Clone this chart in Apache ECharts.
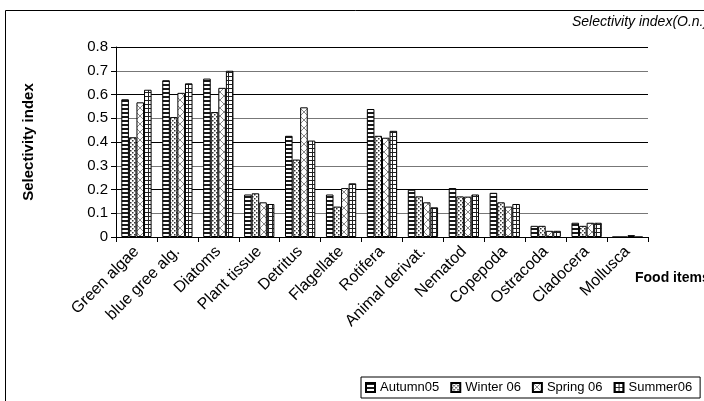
<!DOCTYPE html>
<html>
<head>
<meta charset="utf-8">
<script src="https://cdn.jsdelivr.net/npm/echarts@6/dist/echarts.min.js"></script>
<style>
  html, body { margin: 0; padding: 0; background: #fff; }
  #chart { width: 704px; height: 401px; }
</style>
</head>
<body>
<div id="chart"></div>
<script>
var categories = ['Green algae', 'blue gree alg.', 'Diatoms', 'Plant tissue', 'Detritus', 'Flagellate',
    'Rotifera', 'Animal derivat.', 'Nematod', 'Copepoda', 'Ostracoda', 'Cladocera', 'Mollusca'];
var autumn05 = [0.58, 0.66, 0.667, 0.179, 0.426, 0.179, 0.539, 0.199, 0.206, 0.186, 0.047, 0.06, 0];
var winter06 = [0.42, 0.505, 0.526, 0.184, 0.326, 0.128, 0.426, 0.171, 0.171, 0.146, 0.047, 0.047, 0];
var spring06 = [0.567, 0.607, 0.628, 0.146, 0.546, 0.206, 0.418, 0.146, 0.17, 0.128, 0.026, 0.06, 0.008];
var summer06 = [0.62, 0.647, 0.70, 0.139, 0.406, 0.226, 0.447, 0.125, 0.179, 0.139, 0.026, 0.06, 0];
var seriesNames = ['Autumn05', 'Winter 06', 'Spring 06', 'Summer06'];

// little canvas tiles used as fill patterns
function makeTile(w, h, draw) {
    var c = document.createElement('canvas');
    c.width = w;
    c.height = h;
    var ctx = c.getContext('2d');
    ctx.fillStyle = '#fff';
    ctx.fillRect(0, 0, w, h);
    draw(ctx);
    return { image: c, repeat: 'repeat' };
}

var stripes = makeTile(4, 4, function (ctx) {
    ctx.fillStyle = '#1a1a1a';
    ctx.fillRect(0, 0, 4, 2);
});
var dots = makeTile(4, 4, function (ctx) {
    ctx.fillStyle = '#333';
    ctx.fillRect(0, 0, 1.5, 1.5);
    ctx.fillRect(2, 2, 1.5, 1.5);
});
var diamonds = makeTile(8, 8, function (ctx) {
    ctx.strokeStyle = '#888';
    ctx.lineWidth = 1;
    ctx.beginPath();
    ctx.moveTo(0, 0); ctx.lineTo(8, 8);
    ctx.moveTo(8, 0); ctx.lineTo(0, 8);
    ctx.stroke();
});
var grid = makeTile(4, 4, function (ctx) {
    ctx.fillStyle = '#222';
    ctx.fillRect(0, 0, 4, 1);
    ctx.fillRect(0, 0, 1, 4);
});
var fills = [stripes, dots, diamonds, grid];
var values = [autumn05, winter06, spring06, summer06];

var font = 'Liberation Sans, Arial, sans-serif';
var myChart = echarts.init(document.getElementById('chart'));
myChart.setOption({
    animation: false,
    textStyle: { fontFamily: font },
    grid: { left: 116, top: 47, right: 56, bottom: 164, containLabel: false },
    legend: {
        left: 361,
        top: 377,
        padding: [4, 8, 4, 4],
        borderColor: '#000',
        borderWidth: 1,
        icon: 'rect',
        itemWidth: 9,
        itemHeight: 9,
        itemGap: 11,
        textStyle: { fontSize: 13, color: '#000' },
        data: seriesNames
    },
    xAxis: {
        type: 'category',
        data: categories,
        axisLine: { lineStyle: { color: '#000' } },
        axisTick: { show: true, length: 5, lineStyle: { color: '#000' } },
        axisLabel: { rotate: 45, fontSize: 16, color: '#000', margin: 12, interval: 0 }
    },
    yAxis: {
        type: 'value',
        min: 0,
        max: 0.8,
        interval: 0.1,
        name: 'Selectivity index',
        nameLocation: 'middle',
        nameGap: 80,
        nameTextStyle: { fontSize: 15, fontWeight: 'bold', color: '#000' },
        axisLine: { show: true, lineStyle: { color: '#000' } },
        axisTick: { show: true, length: 5, lineStyle: { color: '#000' } },
        axisLabel: { fontSize: 15, color: '#000', margin: 8 },
        splitLine: { lineStyle: { color: ['#000', '#777'], width: 1 } }
    },
    series: seriesNames.map(function (name, i) {
        return {
            name: name,
            type: 'bar',
            data: values[i],
            barGap: '0%',
            barCategoryGap: '26%',
            itemStyle: { color: fills[i], borderColor: '#000', borderWidth: 1 }
        };
    }),
    graphic: [
        {
            type: 'rect',
            shape: { x: 5.5, y: 10.5, width: 760, height: 460 },
            style: { fill: 'none', stroke: '#000', lineWidth: 1 },
            silent: true
        },
        {
            type: 'text',
            left: 572,
            top: 15,
            style: { text: 'Selectivity index(O.n.)', fontSize: 14, fontStyle: 'italic', fill: '#000', fontFamily: font }
        },
        {
            type: 'text',
            left: 635,
            top: 271,
            style: { text: 'Food items', fontSize: 14, fontWeight: 'bold', fill: '#000', fontFamily: font }
        }
    ]
});
</script>
</body>
</html>
